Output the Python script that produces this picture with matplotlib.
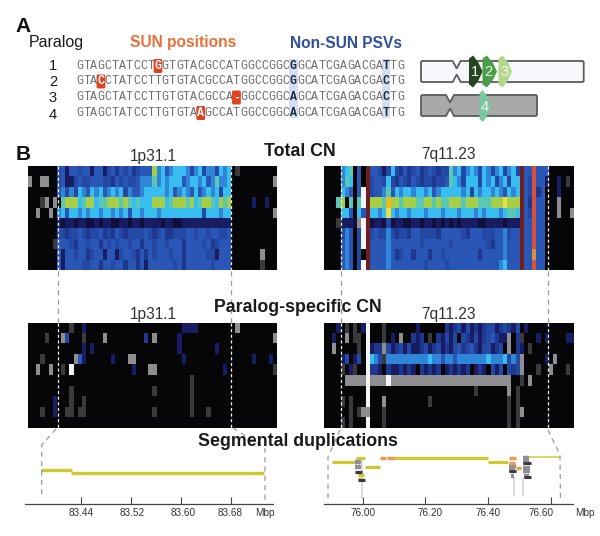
import numpy as np
import matplotlib
matplotlib.use("Agg")
import matplotlib.pyplot as plt
from matplotlib.colors import ListedColormap
from matplotlib.patches import Polygon, FancyBboxPatch, Rectangle

plt.rcParams['font.family'] = ['Liberation Sans', 'DejaVu Sans']

W, H = 600, 536

# --- heatmap cells, one letter per cell ---
CODES = ".NndbBmctyYOrRogGW"
CELL_COLORS = ["#060608", "#10103e", "#171c63", "#1e3890", "#2349a4", "#2a57b6", "#2f86d8", "#38bdf0",
               "#5cc8b4", "#a6cf48", "#e8e040", "#f2b820", "#6e1e1e", "#d8503c", "#d99040",
               "#3a3a3c", "#8e8e90", "#f4f4f4"]

total_1p = [
    ".......bBn BBbBBnBBnb BdBbBdbBBB ymcBmcccmb mcbmmbcmc. g.........",
    "G..GG..bBn nbBbbBBBbb dBbBbbBmmm tmcmcccBmc cmcBmtmmc. .........G",
    ".......Bmb mbcmBcmcBm cmcbmBBmcc cccmcBmcmB cBmcmcbcc. ..........",
    "...gG.G.ty yyctyyctty yytytctccc yyyctyyyty ctyytcyty. ....n..n..",
    "..G..G.mcB ccmcmccmcc mcmcBccmcc cmcccccccc ccbcccmcc. .........G",
    ".......nNn nNnnNNnNnn NNnnNnnNnn nnNnnNNnnn nnnnnnnnn. ..........",
    ".......bbd bbBbdbbBdb dBbdbbbbBb dbBddbbbBB bBBbBBbbB. ..........",
    "......gBBB bdBBbBBdBb BbBBbBBdBB bBBbBBBdBB BBbBdbBBB. ..........",
    ".......BnB BbBBdbBBnB BnbBBbdBdB bBBBbBBdBB BBBbbnBBB. ......G...",
    ".......BnB BBBbbBBdBB bBBdBBdBnB BBBBBbBdBB BBBBbBBBB. ......g...",
]
total_7q = [
    "....mct.B. rBBbnbcbdB dbBdbBbdbb tmcbmcmbcm bmcbmcbrBB RBBB......",
    "....mtc.B. rbBBbcbdBb dBbdbbdbbB tcmbcccbcm cbmcbccrBb RBBn..n.g.",
    "....cmB.BW rbBBmtBcmc cmccmcBmcc cccmcbcmcc mcmBcmcrBb RdB...n...",
    "...ty.t.tW ryyytOyyty yyttyytytt yyytyyyttt yyyYyyyrBd RBB...G...",
    "....ccB.cB rccmcYcmcc mcccmcccmc ccmcccmcmc ccmcttcrBb RBB...G..G",
    "...gnnnNGW rNnnNbNnnN NnnNnnNnNn NnNnnnnNNn nnnNnnnrBB RBB.......",
    "....bmB.bW rbBbbmbdbb dBBbbbbdBB BBBbdBBBbb bBBmbBBrBB RBB.......",
    "....BmB.bW rBBBBmBBBB BBBbBBBBBB bBBBBBBBBb dBBmBBBrBB RBB.......",
    "....BmB.b. rBBBBmBdbB BdBBBdBBbB BBBBBBBdBB BBBmBBBrBB oBB.......",
    "....BmB.bW rBBBBmBBBB BBBBbBBBBb BBBBBBBBBB BBmcBBBrBB RBB.......",
]
pscn_1p = [
    ".......... g..n...... .......... .......nnn n......... G.........",
    "....g...Gb ...g....G. ........d. G.....n... .......... .........G",
    ".......... ...n.n.... .......... ......n... .....n.... ..........",
    "...g...... .GBn...... n...GG.... .......n.. .......... ....n...n.",
    "..G..G..g. W......... .....n...G G......... .......n.. .........g",
    ".......... .......... .......... .........g .......... ..........",
    ".......... g......... .......... g........g .......... ..........",
    "......n... g..g...... .......... .........g .......... ..........",
    "...g..n..g g.gg...... .......... g........g ...g...... ..........",
    ".......... .......... .......... .......... .......... ..........",
]
pscn_7q = [
    "...n.g.g.n W...g..... ..n......d ndbnbndndb bndbdnb.n. ..........",
    "..n..G.gg. W...g.n.G. .dnd.g.dnb nb.bdnbndb BdnnG.dg.. .n.n....nn",
    "..G.....g. WnddGbndbn bnndbndbnd nbBdbBdnbb ndb.G.dn.g ..........",
    "....nb.nb. Wcmbgmmmmm mmmmmcmmBm mBmmmmmmmc mmmcbmbG.. ...n.G....",
    "....g.ng.. Wddn.dnndn dn.dndnd.n dndnd.ndn. bnb.bdbG.. .g..G...g.",
    ".....GGGGG WGGGGWGGGG GGGGGGGGGG GGGGGGGGGG GGGGG..g.G ..........",
    ".......... W......... .......... ......g... ....G.g... ..........",
    "....g.g... W...G..... .....g.... .......... ....g.g... ..........",
    "......g.gG G...g..... .......... .......... ....g.gG.. ..........",
    "....g.g... W...g..... .......... .......... ....g.g... .........."
]

# --- panel A ---
paralogs = ["1", "2", "3", "4"]
sequences = [
    "GTAGCTATCCTGGTGTACGCCATGGCCGGCGGCATCGAGACGATTG",
    "GTACCTATCCTTGTGTACGCCATGGCCGGCGGCATCGAGACGACTG",
    "GTAGCTATCCTTGTGTACGCCA-GGCCGGCAGCATCGAGACGACTG",
    "GTAGCTATCCTTGTGTAAGCCATGGCCGGCAGCATCGAGACGATTG",
]
sun_index = [11, 3, 22, 17]
psv_index = [30, 43]

# --- segmental duplications: start, end (Mbp), track height ---
left_ticks = [83.44, 83.52, 83.60, 83.68]
left_segs = [(83.376, 83.425, 469.7), (83.424, 83.733, 473)]
right_ticks = [76.00, 76.20, 76.40, 76.60]
right_yellow = [(75.901, 75.976, 462.3), (75.978, 76.007, 458), (76.007, 76.055, 466.7),
                (76.103, 76.399, 458), (76.401, 76.465, 462.3),
                (75.985, 76.005, 475), (75.985, 76.000, 479)]
right_thin = [(76.515, 76.630, 457)]
right_orange = [(76.055, 76.073, 458), (76.078, 76.103, 458), (76.467, 76.487, 462.5),
                (76.468, 76.488, 458), (76.490, 76.505, 468)]
right_gray = [(75.976, 75.996, 462), (75.976, 75.994, 467), (76.468, 76.488, 466),
              (76.468, 76.486, 470), (76.510, 76.532, 458), (76.510, 76.532, 462),
              (76.512, 76.534, 468), (76.512, 76.534, 471), (76.473, 76.483, 476),
              (76.514, 76.532, 476)]
right_dark = [(75.976, 75.998, 472), (75.984, 76.008, 480), (76.468, 76.488, 470.5),
              (76.512, 76.536, 463), (76.514, 76.536, 477)]
right_faint = [(75.998, 458, 498), (76.482, 478, 495), (76.513, 478, 495)]


def axes_px(x0, y0, x1, y1):
    return fig.add_axes([x0 / W, 1 - y1 / H, (x1 - x0) / W, (y1 - y0) / H])


def heat(rows, x0, y0, x1, y1):
    ax = axes_px(x0, y0, x1, y1)
    grid = [[CODES.index(c) for c in r.replace(" ", "")] for r in rows]
    ax.imshow(np.array(grid), cmap=ListedColormap(CELL_COLORS), vmin=0, vmax=len(CODES) - 1,
              aspect='auto', interpolation='nearest')
    ax.axis('off')
    return ax


def seg_axis(x0, x1, xlim, ticks):
    ax = axes_px(x0, 452, x1, 503.7)
    ax.set_xlim(*xlim)
    ax.set_ylim(503.7, 452)
    ax.patch.set_alpha(0)
    for s in ['top', 'left', 'right']:
        ax.spines[s].set_visible(False)
    ax.spines['bottom'].set_color('#444444')
    ax.spines['bottom'].set_linewidth(0.9)
    ax.set_yticks([])
    ax.set_xticks(ticks)
    ax.set_xticklabels([])
    ax.tick_params(axis='x', direction='in', length=5, width=0.8, color='#444444')
    return ax


fig = plt.figure(figsize=(W / 100, H / 100), dpi=100)

heat(total_1p, 28, 166, 277, 270)
heat(total_7q, 323.5, 166, 573, 270)
heat(pscn_1p, 28, 323, 277, 428)
heat(pscn_7q, 323.5, 323, 573, 428)

# segmental duplication tracks
ax_l = seg_axis(25, 273, (83.3497, 83.7473), left_ticks)
for a, b, y in left_segs:
    ax_l.plot([a, b], [y, y], color='#cfc92f', lw=2.4, solid_capstyle='butt')

ax_r = seg_axis(323.5, 573, (75.875, 76.671), right_ticks)
for x, y0, y1 in right_faint:
    ax_r.plot([x, x], [y0, y1], color='#dcdcde', lw=1.6)
for a, b, y in right_yellow:
    ax_r.plot([a, b], [y, y], color='#cfc92f', lw=2.3, solid_capstyle='butt')
for a, b, y in right_thin:
    ax_r.plot([a, b], [y, y], color='#d6d04a', lw=1.2, solid_capstyle='butt')
for a, b, y in right_gray:
    ax_r.plot([a, b], [y, y], color='#8f8f96', lw=3.2, solid_capstyle='butt')
for a, b, y in right_orange:
    ax_r.plot([a, b], [y, y], color='#ee9a4a', lw=2.4, solid_capstyle='butt')
for a, b, y in right_dark:
    ax_r.plot([a, b], [y, y], color='#3a3a46', lw=2.2, solid_capstyle='butt')

# overlay in picture pixels: text, dashed guides, panel A
ov = fig.add_axes([0, 0, 1, 1])
ov.set_xlim(0, W)
ov.set_ylim(H, 0)
ov.axis('off')
ov.patch.set_alpha(0)


def label(x, y, s, size, **kw):
    kw.setdefault('color', '#1a1a1a')
    kw.setdefault('ha', 'center')
    ov.text(x, y, s, fontsize=size, va='center', **kw)


label(23, 26, "A", 15, weight='bold', color='#111111')
label(23, 155, "B", 15, weight='bold', color='#111111')
label(56, 43, "Paralog", 11.5)
label(183, 42, "SUN positions", 11.2, weight='bold', color='#e8703a')
label(346.5, 44, "Non-SUN PSVs", 11.2, weight='bold', color='#2f4f9f')

label(153, 156, "1p31.1", 11.2, color='#333333')
label(448, 155, "7q11.23", 11.2, color='#333333')
label(153, 315, "1p31.1", 11.2, color='#333333')
label(448, 314, "7q11.23", 11.2, color='#333333')
label(299.5, 151, "Total CN", 12.8, weight='bold')
label(298, 307, "Paralog-specific CN", 12.8, weight='bold')
label(298, 441, "Segmental duplications", 12.8, weight='bold')

# alignment
seq_x0, char_w = 76.0, 7.13
seq_y = [66, 81.5, 97.5, 113]
num_y = [66, 82, 98, 115]
for i in psv_index:
    ov.add_patch(Rectangle((seq_x0 + i * char_w - 0.5, 59), char_w + 1, 59, color='#d3dfee', lw=0))
for seq, y, ny, sun, name in zip(sequences, seq_y, num_y, sun_index, paralogs):
    label(53, ny, name, 10.5)
    for i, c in enumerate(seq):
        cx = seq_x0 + (i + 0.5) * char_w
        if i == sun:
            ov.add_patch(FancyBboxPatch((cx - 3.4, y - 6), 6.8, 12, boxstyle="round,pad=1,rounding_size=1.5",
                                        color='#e2431e', lw=0, zorder=3))
            label(cx, y, c, 8.4, weight='bold', color='white', family='Liberation Mono', zorder=4)
        elif i in psv_index:
            label(cx, y, c, 8.4, weight='bold', color='#1c2a48', family='Liberation Mono')
        else:
            label(cx, y, c, 8.4, color='#6e6e6e', family='Liberation Mono')


def chromosome(x0, x1, y0, y1, waist, fill):
    pts = [(x0 + 1, y0), (waist - 4, y0), (waist, y0 + 7.5), (waist + 4, y0),
           (x1 - 1, y0), (x1, y0 + 1), (x1, y1 - 1), (x1 - 1, y1), (waist + 4, y1),
           (waist, y1 - 7.5), (waist - 4, y1), (x0 + 1, y1), (x0, y1 - 1), (x0, y0 + 1)]
    ov.add_patch(Polygon(pts, closed=True, facecolor=fill, edgecolor='#5c5c5c', lw=1.3))


chromosome(421, 583.7, 61, 82, 456.7, '#f6f8fb')
chromosome(421, 537, 95, 116, 450, '#a9a9a9')


def marker(x0, x1, yc, half, color, name):
    w = x1 - x0
    pts = [(x0, yc - half + 3), (x0 + 0.3 * w, yc - half), (x0 + 0.7 * w, yc - half + 7), (x1, yc),
           (x0 + 0.7 * w, yc + half - 7), (x0 + 0.3 * w, yc + half), (x0, yc + half - 3)]
    ov.add_patch(Polygon(pts, closed=True, facecolor=color, edgecolor='none', zorder=3))
    label(x0 + 0.42 * w, yc + 1, name, 10.5, color='#f2f5ee', zorder=4)


marker(469, 482.5, 71.5, 16, '#24451f', "1")
marker(482.5, 497, 71.5, 16, '#4a9e48', "2")
marker(498.5, 512, 71.5, 16, '#b5d98c', "3")
marker(479.5, 491, 106, 16, '#79c9a0', "4")

# dashed guides
guide = dict(color='#9a9a9a', lw=0.9, dashes=(4, 3.5))
inner = dict(color='#f0f0f0', lw=0.9, dashes=(2.5, 2))
for x in (58, 230.5):
    ov.plot([x, x], [271, 323], **guide)
for x in (341, 547.5):
    ov.plot([x, x], [271, 323], **guide)
for x in (58, 230.5, 341, 547.5):
    ov.plot([x, x], [166, 270], **inner)
    ov.plot([x, x], [323, 428], **inner)
ov.plot([56, 41.7, 41.7], [429, 445, 497], **guide)
ov.plot([233, 265, 265], [428, 448, 500], **guide)
ov.plot([340, 328, 328], [430, 457, 503], **guide)
ov.plot([548, 560, 560.5], [430, 455, 502], **guide)

# axis labels sit a little off their ticks in the original
for x, s in zip([81.5, 132, 183, 230, 264.5], ["83.44", "83.52", "83.60", "83.68", "Mbp"]):
    label(x, 512.5, s, 7.2, color='#333333')
for x, s in zip([363, 430.5, 488, 541.5, 585], ["76.00", "76.20", "76.40", "76.60", "Mbp"]):
    label(x, 512.5, s, 7.2, color='#333333')

fig.savefig("out.png", dpi=100)
